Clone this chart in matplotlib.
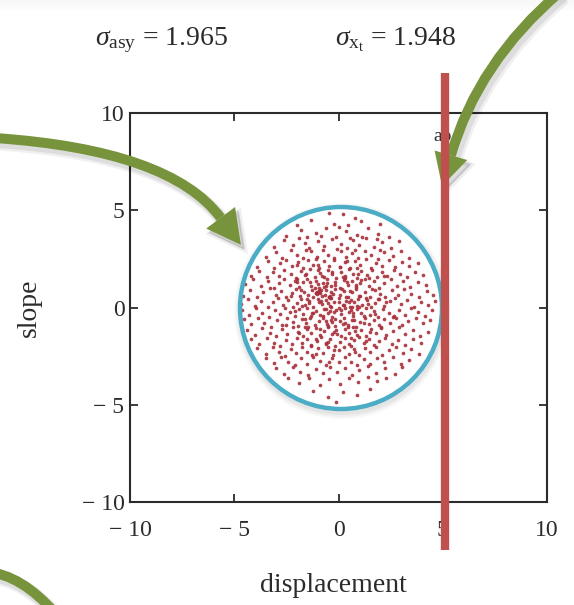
import matplotlib
matplotlib.use("Agg")
import matplotlib.pyplot as plt
import numpy as np
from matplotlib.patches import Circle, PathPatch, Polygon, Rectangle
from matplotlib.path import Path
from matplotlib.lines import Line2D
from matplotlib.transforms import Affine2D

plt.rcParams["font.family"] = ["Liberation Serif", "DejaVu Serif"]
plt.rcParams["mathtext.fontset"] = "custom"
plt.rcParams["mathtext.rm"] = "Liberation Serif"
plt.rcParams["mathtext.it"] = "Liberation Serif:italic"

W, H = 574, 605

# ---- data -------------------------------------------------------------
sigma_asy = 1.965
sigma_xt = 1.948
aperture_x = 5          # dotted marker (aperture edge)
cut_x = 5.1             # highlighted cut line
tick_values = [-10, -5, 0, 5, 10]
tick_labels = ["\u2212 10", "\u2212 5", "0", "5", "10"]

# (displacement, slope) samples
samples = [
    (-0.45,4.85),(0.2,4.8),(-1.3,4.5),(1.1,4.45),(-0.2,4.3),(0.8,4.6),(-2.0,4.25),(2.0,4.3),(0.45,4.25),
    (-2.5,3.7),(-1.8,4.0),(-1.1,3.85),(-0.6,4.1),(-0.1,3.65),(0.35,3.95),(0.9,3.75),(1.4,4.1),(1.9,3.8),
    (2.4,3.65),(-1.5,3.62),(0.0,4.15),(1.15,3.6),(-0.85,3.7),
    (-3.1,3.1),(-2.6,3.45),(-2.2,3.2),(-1.9,3.55),(-1.4,3.05),(-1.0,3.4),(-0.7,3.15),(-0.3,3.5),(0.1,3.25),
    (0.4,3.05),(0.7,3.45),(1.0,3.2),(1.3,3.55),(1.7,3.1),(2.1,3.35),(2.5,3.05),(2.9,3.4),(-1.6,3.3),
    (0.55,3.58),(-0.05,3.0),(1.85,3.5),
    (-3.5,2.6),(-3.0,2.85),(-2.7,2.55),(-2.3,2.95),(-2.0,2.7),(-1.7,2.52),(-1.3,2.88),(-1.05,2.6),
    (-0.75,2.95),(-0.5,2.7),(-0.2,2.55),(0.1,2.9),(0.35,2.62),(0.65,2.8),(0.95,2.55),(1.25,2.92),
    (1.55,2.68),(1.9,2.5),(2.2,2.85),(2.6,2.65),(3.0,2.9),(3.4,2.55),(-1.55,2.98),(0.8,2.98),(2.0,2.98),
    (-3.9,2.1),(-3.4,2.4),(-3.1,2.05),(-2.8,2.3),(-2.5,2.45),(-2.25,2.12),(-1.95,2.35),(-1.7,2.02),
    (-1.45,2.42),(-1.2,2.2),(-0.95,2.05),(-0.7,2.38),(-0.45,2.15),(-0.2,2.45),(0.05,2.08),(0.3,2.32),
    (0.55,2.02),(0.8,2.4),(1.05,2.18),(1.3,2.48),(1.55,2.05),(1.8,2.3),(2.1,2.15),(2.4,2.42),(2.7,2.08),
    (3.05,2.35),(3.4,2.15),(3.8,2.3),(-1.1,2.47),(0.9,2.02),(-2.0,2.2),
    (-4.2,1.6),(-3.8,1.9),(-3.45,1.55),(-3.15,1.8),(-2.85,1.62),(-2.6,1.95),(-2.3,1.7),(-2.05,1.52),
    (-1.8,1.88),(-1.6,1.65),(-1.35,1.98),(-1.15,1.55),(-0.9,1.78),(-0.7,1.58),(-0.5,1.92),(-0.3,1.7),
    (-0.1,1.52),(0.1,1.85),(0.3,1.62),(0.5,1.97),(0.7,1.72),(0.9,1.54),(1.1,1.88),(1.35,1.66),(1.6,1.95),
    (1.85,1.58),(2.1,1.82),(2.35,1.6),(2.65,1.92),(2.95,1.7),(3.3,1.55),(3.65,1.85),(4.05,1.65),
    (-1.0,1.95),(0.2,1.55),(1.45,1.5),
    (-4.5,1.2),(-4.1,1.45),(-3.7,1.1),(-3.4,1.35),(-3.1,1.02),(-2.85,1.28),(-2.6,1.48),(-2.35,1.15),
    (-2.1,1.38),(-1.9,1.05),(-1.7,1.3),(-1.5,1.48),(-1.3,1.12),(-1.1,1.35),(-0.95,1.02),(-0.75,1.25),
    (-0.55,1.45),(-0.35,1.08),(-0.15,1.32),(0.05,1.0),(0.25,1.42),(0.45,1.18),(0.65,1.38),(0.85,1.05),
    (1.05,1.28),(1.25,1.47),(1.45,1.1),(1.7,1.35),(1.95,1.02),(2.2,1.25),(2.5,1.45),(2.8,1.12),(3.1,1.38),
    (3.45,1.05),(3.8,1.3),(4.2,1.15),(-1.0,1.2),(-0.6,1.1),(0.4,1.3),(-2.0,1.45),
    (-4.6,0.6),(-4.25,0.9),(-3.9,0.55),(-3.6,0.8),(-3.3,0.98),(-3.0,0.62),(-2.75,0.85),(-2.5,0.52),
    (-2.25,0.75),(-2.05,0.95),(-1.85,0.58),(-1.65,0.82),(-1.45,0.65),(-1.25,0.92),(-1.1,0.75),(-1.0,0.8),
    (-0.95,0.85),(-0.9,0.72),(-0.8,0.6),(-0.6,0.88),(-0.45,0.55),(-0.35,0.78),(-0.4,0.5),(-0.15,0.95),
    (0.05,0.62),(0.25,0.85),(0.45,0.52),(0.65,0.78),(0.85,0.95),(1.05,0.6),(1.25,0.82),(1.5,0.55),
    (1.75,0.9),(2.0,0.68),(2.25,0.52),(2.55,0.88),(2.85,0.62),(3.15,0.95),(3.5,0.7),(3.85,0.55),
    (4.25,0.85),(4.55,0.65),(-1.05,0.68),(-0.85,0.9),
    (-4.7,0.2),(-4.35,0.45),(-4.0,0.1),(-3.7,0.35),(-3.4,0.05),(-3.15,0.28),(-2.9,0.48),(-2.65,0.15),
    (-2.4,0.38),(-2.2,0.02),(-2.0,0.25),(-1.8,0.45),(-1.6,0.12),(-1.4,0.32),(-1.2,0.05),(-1.0,0.42),
    (-0.8,0.2),(-0.6,0.4),(-0.4,0.08),(-0.2,0.3),(0.0,0.48),(0.2,0.12),(0.35,0.35),(0.55,0.02),(0.75,0.28),
    (0.95,0.45),(1.15,0.15),(1.35,0.38),(1.55,0.05),(1.75,0.25),(1.95,0.42),(2.2,0.1),(2.45,0.32),
    (2.7,0.48),(3.0,0.18),(3.3,0.4),(3.6,0.05),(3.95,0.3),(4.3,0.15),(4.65,0.35),(-0.5,0.25),(0.6,0.4),
    (-1.5,0.45),(1.0,0.05),
    (-4.65,-0.15),(-4.3,-0.4),(-3.95,-0.05),(-3.65,-0.3),(-3.35,-0.48),(-3.05,-0.12),(-2.8,-0.35),
    (-2.55,-0.02),(-2.35,-0.25),(-2.1,-0.45),(-1.9,-0.1),(-1.7,-0.32),(-1.5,-0.05),(-1.3,-0.42),
    (-1.1,-0.18),(-0.9,-0.38),(-0.7,-0.08),(-0.5,-0.3),(-0.3,-0.48),(-0.1,-0.15),(0.1,-0.35),(0.3,-0.02),
    (0.5,-0.25),(0.7,-0.45),(0.9,-0.1),(1.1,-0.3),(1.3,-0.05),(1.5,-0.4),(1.7,-0.2),(1.9,-0.48),
    (2.15,-0.08),(2.4,-0.28),(2.65,-0.45),(2.9,-0.15),(3.2,-0.38),(3.5,-0.05),(3.8,-0.25),(4.15,-0.42),
    (4.5,-0.12),(-0.4,-0.2),(0.6,-0.15),(-1.2,-0.28),(1.2,-0.45),(0.0,-0.05),
    (-4.55,-0.6),(-4.2,-0.85),(-3.85,-0.55),(-3.55,-0.78),(-3.25,-0.98),(-2.95,-0.62),(-2.7,-0.88),
    (-2.45,-0.52),(-2.2,-0.75),(-1.95,-0.95),(-1.75,-0.6),(-1.55,-0.82),(-1.35,-0.55),(-1.15,-0.9),
    (-0.95,-0.68),(-0.75,-0.52),(-0.55,-0.85),(-0.35,-0.62),(-0.15,-0.95),(0.05,-0.7),(0.25,-0.55),
    (0.45,-0.88),(0.65,-0.62),(0.85,-0.98),(1.05,-0.75),(1.25,-0.52),(1.45,-0.85),(1.7,-0.65),(1.95,-0.92),
    (2.2,-0.58),(2.45,-0.8),(2.75,-0.55),(3.05,-0.9),(3.35,-0.68),(3.7,-0.52),(4.05,-0.82),(4.4,-0.62),
    (-0.6,-0.7),(0.3,-0.78),(-1.6,-0.98),
    (-4.4,-1.15),(-4.0,-1.4),(-3.65,-1.05),(-3.3,-1.3),(-3.0,-1.48),(-2.7,-1.12),(-2.45,-1.35),(-2.2,-1.02),
    (-1.95,-1.25),(-1.7,-1.45),(-1.5,-1.08),(-1.3,-1.32),(-1.1,-1.05),(-0.9,-1.42),(-0.7,-1.2),(-0.5,-1.0),
    (-0.3,-1.35),(-0.1,-1.15),(0.1,-1.45),(0.3,-1.08),(0.5,-1.3),(0.7,-1.02),(0.9,-1.4),(1.1,-1.18),
    (1.3,-1.48),(1.55,-1.1),(1.8,-1.32),(2.05,-1.05),(2.3,-1.42),(2.6,-1.2),(2.9,-1.02),(3.2,-1.38),
    (3.55,-1.15),(3.9,-1.45),(4.3,-1.25),(-0.2,-1.25),(0.8,-1.22),
    (-4.2,-1.6),(-3.8,-1.88),(-3.45,-1.55),(-3.1,-1.8),(-2.8,-1.98),(-2.5,-1.65),(-2.25,-1.9),(-2.0,-1.58),
    (-1.75,-1.82),(-1.5,-1.62),(-1.3,-1.95),(-1.05,-1.7),(-0.85,-1.52),(-0.6,-1.85),(-0.4,-1.62),
    (-0.15,-1.98),(0.05,-1.75),(0.3,-1.55),(0.5,-1.9),(0.75,-1.68),(1.0,-1.52),(1.2,-1.85),(1.45,-1.6),
    (1.7,-1.95),(1.95,-1.72),(2.25,-1.55),(2.55,-1.88),(2.85,-1.65),(3.2,-1.92),(3.55,-1.6),(3.95,-1.8),
    (-0.5,-1.75),(0.6,-1.98),
    (-3.9,-2.1),(-3.5,-2.4),(-3.15,-2.05),(-2.85,-2.3),(-2.55,-2.48),(-2.3,-2.12),(-2.05,-2.35),
    (-1.75,-2.02),(-1.5,-2.28),(-1.25,-2.45),(-1.0,-2.1),(-0.75,-2.32),(-0.5,-2.05),(-0.25,-2.42),
    (0.0,-2.18),(0.25,-2.02),(0.5,-2.38),(0.75,-2.15),(1.0,-2.45),(1.25,-2.08),(1.5,-2.3),(1.8,-2.05),
    (2.1,-2.42),(2.4,-2.2),(2.75,-2.02),(3.1,-2.35),(3.5,-2.15),(3.85,-2.4),(-1.1,-2.4),
    (-3.5,-2.6),(-3.1,-2.85),(-2.75,-2.55),(-2.4,-2.8),(-2.1,-2.98),(-1.8,-2.62),(-1.5,-2.88),(-1.2,-2.55),
    (-0.9,-2.75),(-0.6,-2.95),(-0.3,-2.6),(0.0,-2.82),(0.3,-2.52),(0.6,-2.78),(0.9,-2.98),(1.2,-2.65),
    (1.5,-2.88),(1.85,-2.58),(2.2,-2.8),(2.6,-2.55),(3.0,-2.9),(3.4,-2.68),(-0.45,-2.8),
    (-3.0,-3.1),(-2.6,-3.4),(-2.2,-3.05),(-1.85,-3.3),(-1.45,-3.48),(-1.1,-3.15),(-0.75,-3.38),(-0.4,-3.05),
    (-0.05,-3.3),(0.3,-3.12),(0.65,-3.45),(1.0,-3.2),(1.4,-3.02),(1.8,-3.35),(2.25,-3.12),(2.7,-3.4),
    (3.05,-3.08),
    (-2.4,-3.6),(-1.9,-3.9),(-1.4,-3.65),(-0.9,-4.0),(-0.45,-3.7),(0.05,-3.95),(0.5,-3.6),(0.95,-3.85),
    (1.4,-3.55),(1.85,-3.8),(2.3,-3.62),
    (-1.2,-4.3),(-0.5,-4.6),(0.2,-4.35),(0.9,-4.5),(-0.1,-4.85),(1.5,-4.2),
    (-1.02,0.78),(-0.98,0.82),(-1.08,0.74),(-0.92,0.8),(-0.45,0.52),(-0.38,0.48),(-0.42,0.58),(-1.2,0.55),
    (-0.7,1.05),(-0.25,0.7),(0.15,0.95),(0.5,0.3),(-0.6,-0.1),(-1.4,0.25),(-0.15,-0.6),(0.7,-0.3),(1.0,0.6),
    (-1.8,0.9),(0.3,1.5),(-0.8,1.6),(1.4,0.2),(-1.6,-0.6),(0.45,-1.0),(-0.9,-1.1),(1.2,-0.8),(0.0,0.3),
    (-0.2,-0.25),(0.35,0.55),(-0.55,1.25),(0.85,1.15),(-1.35,1.3),(1.6,0.95),(-1.75,0.1),(1.75,-0.35),
    (-0.05,-1.35),(0.6,-1.55),(-1.1,-1.6),(-0.3,1.85),(0.95,1.7),(-1.55,1.7),(1.9,0.45),(-2.1,-0.2),
    (2.05,-1.0),(-2.0,1.3),(0.2,-0.85),(-0.75,-0.45),(0.9,0.1),(-1.25,-0.3),(0.55,0.85),(-0.35,0.05),
    (0.1,-0.15),(-0.85,0.35),(1.3,0.5),(-0.5,-0.95),(0.75,-0.65),(1.5,-1.25),(-1.45,-1.0),(-2.3,0.6),
    (2.3,0.3),(-0.65,0.65),(-1.15,1.0),(0.25,0.15),(-0.15,1.15),(1.1,1.4),(-1.9,-1.3),(0.05,2.1),
    (-0.6,-1.9),(1.3,-1.7),(-1.3,-2.0),(0.4,2.4),(-1.0,2.2),(2.2,1.6),(-2.5,-0.9),(2.6,-0.5),(-0.2,-2.2),
    (0.8,-2.3),(-0.95,0.3),(0.65,0.05),(-0.3,-0.75),
]
displacement = np.array([s[0] for s in samples])
slope = np.array([s[1] for s in samples])

# ---- colours ----------------------------------------------------------
GREEN = "#77933C"
RED = "#C0504D"
BLUE = "#4BACC6"
DOT = "#a8303a"
INK = "#2b2b2b"

fig = plt.figure(figsize=(W / 100, H / 100), dpi=100)
fig.patch.set_facecolor("white")

# pixel transform: x to the right, y downward from the top edge
pxT = Affine2D().scale(1, -1).translate(0, H)


def fx(x):
    return x / W


def fy(y):
    return 1 - y / H


# soft grey band along the top edge
for i, a in enumerate(np.linspace(0.08, 0.0, 8)):
    fig.add_artist(Rectangle((0, i * 1.5), W, 1.5, transform=pxT,
                             facecolor="#9a9a9a", alpha=a, edgecolor="none"))

ax_l, ax_r, ax_t, ax_b = 130, 547, 113, 502
ax = fig.add_axes([fx(ax_l), fy(ax_b), (ax_r - ax_l) / W, (ax_b - ax_t) / H])
ax.set_xlim(-10, 10)
ax.set_ylim(-10, 10)
for sp in ax.spines.values():
    sp.set_linewidth(1.5)
    sp.set_color(INK)
ax.set_xticks(tick_values)
ax.set_yticks(tick_values)
ax.set_xticklabels(tick_labels)
ax.set_yticklabels(tick_labels)
ax.tick_params(direction="in", length=6, width=1.3, color=INK, labelsize=17,
               labelcolor=INK, top=True, right=True, pad=4)
ax.tick_params(axis="x", pad=13)

# axis titles
fig.text(fx(333), fy(585), "displacement", fontsize=20, color=INK, ha="center", va="center")
fig.text(fx(29), fy(308), "slope", fontsize=20, color=INK, ha="center", va="center",
         rotation=90)

# dotted aperture marker and its label
ax.axvline(aperture_x, color="#6b4c66", lw=1.4, ls=(0, (2, 2)), zorder=1)
ax.text(aperture_x, 8.8, "ap", ha="center", va="center", fontsize=14, color=INK, zorder=1)

# highlighted sample cloud
cx, cy, rad = 341, 308, 101
for k, (grow, a) in enumerate([(7, 0.05), (5, 0.07), (3, 0.09)]):
    ax.add_patch(Circle((cx + 1, cy + 3), rad + grow, transform=pxT, facecolor="#7a7a7a",
                        edgecolor="none", alpha=a, zorder=2, clip_on=False))
disc = Circle((cx, cy), rad, transform=pxT, facecolor="white", edgecolor="none", zorder=2.5)
ax.add_patch(disc)
pts = ax.scatter(displacement, slope, s=7, color=DOT, linewidths=0, alpha=0.9, zorder=3)
pts.set_clip_path(disc)
ax.add_patch(Circle((cx, cy), rad, transform=pxT, facecolor="none", edgecolor=BLUE,
                    lw=3.2, zorder=4, clip_on=False))

# statistics read-out above the plot
fig.text(fx(95), fy(40), r"$\sigma_{\mathrm{asy}}$" + " = %.3f" % sigma_asy, fontsize=20,
         ha="left", va="center", color=INK)
fig.text(fx(335), fy(40), r"$\sigma_{\mathrm{x}_{\mathrm{t}}}$" + " = %.3f" % sigma_xt, fontsize=20,
         ha="left", va="center", color=INK)

# red cut line crossing the frame
x_cut_px = ax.transData.transform((cut_x, 0))[0]
fig.add_artist(Line2D([x_cut_px, x_cut_px], [H - 73, H - 550], transform=None,
                      color=RED, lw=6, solid_capstyle="butt"))


def curved_arrow(p0, c, p1, lw_px=10, head_len=34, head_w=36, draw_head=True):
    p0, c, p1 = (np.asarray(v, float) for v in (p0, c, p1))
    d = p1 - c
    d /= np.hypot(*d)
    n = np.array([-d[1], d[0]])
    base = p1 - d * head_len if draw_head else p1
    path = Path([p0, c, base], [Path.MOVETO, Path.CURVE3, Path.CURVE3])
    head = np.array([p1, base + n * head_w / 2, base - n * head_w / 2])
    layers = [((4, 5), "#000000", 0.06, 5), ((3, 4), "#000000", 0.08, 2), ((0, 0), GREEN, 1.0, 0)]
    for (ox, oy), col, a, extra in layers:
        sh = Affine2D().translate(ox, oy) + pxT
        fig.add_artist(PathPatch(path, transform=sh, facecolor="none", edgecolor=col,
                                 lw=(lw_px + extra) * 0.72, alpha=a, capstyle="butt"))
        if draw_head:
            fig.add_artist(Polygon(head, closed=True, transform=sh, facecolor=col,
                                   edgecolor=col, lw=extra * 0.72, alpha=a))


curved_arrow((-5, 138), (170, 150), (241, 245))
curved_arrow((560, -8), (478, 62), (442, 186), head_len=32, head_w=34)
curved_arrow((-5, 573), (30, 580), (65, 625), draw_head=False)

fig.savefig("out.png", dpi=100, facecolor="white")
